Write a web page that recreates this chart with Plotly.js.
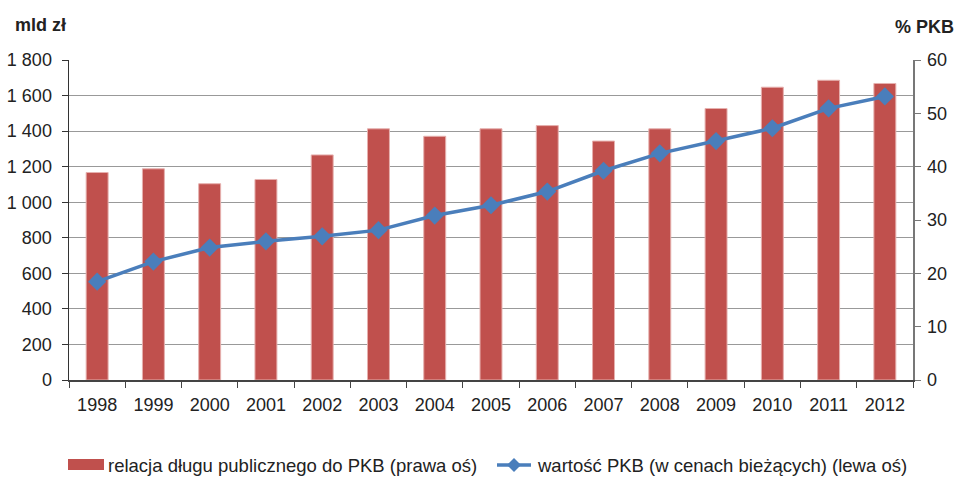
<!DOCTYPE html>
<html>
<head>
<meta charset="utf-8">
<script src="https://cdn.plot.ly/plotly-3.0.1.min.js"></script>
<style>html,body{margin:0;padding:0;background:#fff;}#chart{width:958px;height:477px;}</style>
</head>
<body>
<div id="chart"></div>
<script>
var years = ['1998','1999','2000','2001','2002','2003','2004','2005','2006','2007','2008','2009','2010','2011','2012'];
var debtToGdp = [38.9, 39.6, 36.8, 37.6, 42.2, 47.1, 45.7, 47.1, 47.7, 44.8, 47.1, 50.9, 54.9, 56.2, 55.6];
var gdpValue = [553, 666, 745, 780, 808, 843, 925, 983, 1060, 1177, 1275, 1344, 1416, 1528, 1595];
var leftTicks = [0,200,400,600,800,1000,1200,1400,1600,1800];
var leftTickText = ['0','200','400','600','800','1 000','1 200','1 400','1 600','1 800'];
var rightTicks = [0,10,20,30,40,50,60];
var barName = 'relacja długu publicznego do PKB (prawa oś)';
var lineName = 'wartość PKB (w cenach bieżących) (lewa oś)';

var FAM = 'Liberation Sans, Arial, sans-serif';
var font = {family: FAM, size: 18, color: '#222'};
var barColor = '#C0504D';
var lineColor = '#4A7EBB';

// plot area in pixels: x 69..913, y 60..380
var L = 69, R = 913, T = 60, B = 380, W = 958, H = 477;
function px(x) { return (x - L) / (R - L); }
function py(y) { return (B - y) / (B - T); }

var traces = [
  {
    type: 'bar', x: years, y: debtToGdp, yaxis: 'y',
    name: barName, showlegend: false,
    marker: {color: barColor, line: {color: '#E6B0AE', width: 1}}
  },
  {
    type: 'scatter', mode: 'lines+markers', x: years, y: gdpValue, yaxis: 'y2',
    name: lineName, showlegend: false,
    line: {color: lineColor, width: 3.5},
    marker: {symbol: 'diamond', size: 14, color: lineColor}
  }
];

var legY = 465;
var layout = {
  width: W, height: H,
  margin: {l: L, r: W - R, t: T, b: H - B, pad: 0},
  paper_bgcolor: '#fff', plot_bgcolor: '#fff',
  font: font,
  showlegend: false,
  bargap: 0.61,
  xaxis: {
    type: 'category', range: [-0.5, years.length - 0.5], autorange: false,
    showgrid: false, showline: true, linecolor: '#444', linewidth: 1.5,
    ticks: 'outside', ticklen: 6, tickcolor: '#444', tickson: 'boundaries',
    tickfont: font, automargin: false, fixedrange: true, ticklabelstandoff: 8
  },
  yaxis: {
    side: 'right', range: [0, 60], tickvals: rightTicks, ticks: 'outside', ticklen: 6,
    tickcolor: '#777', showline: true, linecolor: '#777', linewidth: 1.5,
    showgrid: false, zeroline: false, tickfont: font, automargin: false, ticklabelstandoff: 3
  },
  yaxis2: {
    side: 'left', overlaying: 'y', range: [0, 1800], tickvals: leftTicks, ticktext: leftTickText,
    ticks: 'outside', ticklen: 6, tickcolor: '#333', showline: true, linecolor: '#333', linewidth: 1.5,
    showgrid: true, gridcolor: '#999', gridwidth: 1, zeroline: false, tickfont: font,
    automargin: false, ticklabelstandoff: 6
  },
  shapes: [
    {type: 'rect', xref: 'paper', yref: 'paper', x0: px(68), x1: px(104), y0: py(459), y1: py(470),
     fillcolor: barColor, line: {width: 0}},
    {type: 'line', xref: 'paper', yref: 'paper', x0: px(497), x1: px(531), y0: py(legY), y1: py(legY),
     line: {color: lineColor, width: 3.5}}
  ],
  annotations: [
    {text: '<b>mld zł</b>', xref: 'paper', yref: 'paper', x: px(13), y: py(25), xanchor: 'left', yanchor: 'middle',
     showarrow: false, font: {family: FAM, size: 18, color: '#222'}},
    {text: '<b>% PKB</b>', xref: 'paper', yref: 'paper', x: px(956), y: py(27), xanchor: 'right', yanchor: 'middle',
     showarrow: false, font: {family: FAM, size: 18, color: '#222'}},
    {text: barName, xref: 'paper', yref: 'paper', x: px(106), y: py(legY), xanchor: 'left', yanchor: 'middle',
     showarrow: false, font: {family: FAM, size: 18.5, color: '#222'}},
    {text: lineName, xref: 'paper', yref: 'paper', x: px(535), y: py(legY), xanchor: 'left', yanchor: 'middle',
     showarrow: false, font: {family: FAM, size: 18.5, color: '#222'}}
  ]
};

// diamond marker for the legend line sample, drawn as a pixel-sized path anchored in paper coords
layout.shapes.push({
  type: 'path', xref: 'paper', yref: 'paper', xsizemode: 'pixel', ysizemode: 'pixel',
  xanchor: px(514), yanchor: py(legY),
  path: 'M -7 0 L 0 7 L 7 0 L 0 -7 Z', fillcolor: lineColor, line: {width: 0}
});

Plotly.newPlot('chart', traces, layout, {displayModeBar: false, staticPlot: true});
</script>
</body>
</html>
